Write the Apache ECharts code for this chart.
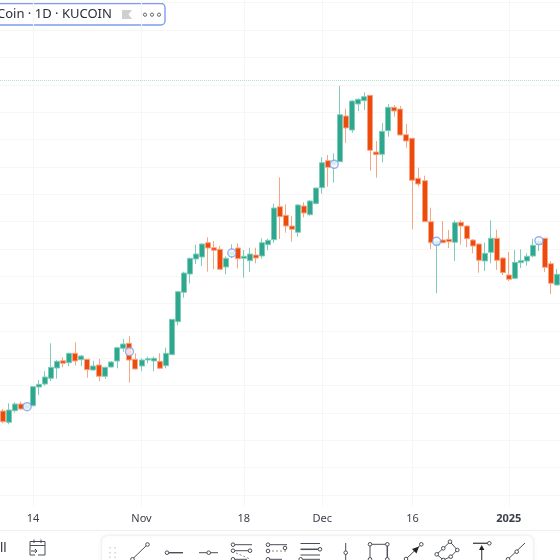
<!DOCTYPE html>
<html><head><meta charset="utf-8">
<style>html,body{margin:0;padding:0;background:#fff}#c{width:560px;height:560px}</style>
<script src="https://cdn.jsdelivr.net/npm/echarts@6/dist/echarts.min.js"></script>
</head><body><div id="c"></div>
<script>
const categories = ["10-09","10-10","10-11","10-12","10-13","10-14","10-15","10-16","10-17","10-18","10-19","10-20","10-21","10-22","10-23","10-24","10-25","10-26","10-27","10-28","10-29","10-30","10-31","11-01","11-02","11-03","11-04","11-05","11-06","11-07","11-08","11-09","11-10","11-11","11-12","11-13","11-14","11-15","11-16","11-17","11-18","11-19","11-20","11-21","11-22","11-23","11-24","11-25","11-26","11-27","11-28","11-29","11-30","12-01","12-02","12-03","12-04","12-05","12-06","12-07","12-08","12-09","12-10","12-11","12-12","12-13","12-14","12-15","12-16","12-17","12-18","12-19","12-20","12-21","12-22","12-23","12-24","12-25","12-26","12-27","12-28","12-29","12-30","12-31","01-01","01-02","01-03","01-04","01-05","01-06","01-07","01-08","01-09"];
const tickCategories = ["10-14","11-01","11-18","12-01","12-16","01-01"];
const tickLabels = ["14","Nov","18","Dec","16","2025"];
const opens  = [95,83.7,95.3,102,97.3,100.3,119,122,127.7,138,145.3,143.3,152.7,146.3,146.7,136,141,129.7,139,145,157.7,162.7,146.7,140,146,145,144.7,140.3,151.3,184.3,213.7,232,247,249,263.3,258.3,256.7,239,251,258,247.7,245.3,251,250,261.3,266.3,299.3,290.7,280,273.7,300,291.3,302.3,318.3,345.3,341,344.3,390,376,402,405.3,410.7,354,351.7,375.3,398.7,397,371.3,367.7,327.7,325.3,284.3,261,266,266.7,263.7,283.7,280,266,262,245,253.7,267.7,248,231,227.7,243.3,245,250,261.5,267.7,242.3,221];
const closes = [84.3,96,102,97,101.3,119.3,121.7,129,138.7,144.7,142.7,152.7,145,150,136.3,140,129.7,138.7,144,158.3,162,146,137,146,147.3,147.7,137.7,152.7,186.7,214.3,233,247.7,252,262,258,255.7,236.7,247.7,254.3,247.3,249.7,252,248,263.3,265.7,298,289.3,280,276.7,301,293,305,318,343.3,338.7,345,391.3,378,405,406.7,409.3,355.7,351.3,374.7,398.7,395,371,365,325.7,322,284.3,263.3,265,263.3,264.3,283.3,280,267.3,260,245.7,252.7,267.7,245.7,233.3,226.7,243.7,245.3,249.7,260.7,265,238.7,222.7,231.7];
const lows   = [82.7,81.7,93.3,96,96.5,99.7,111,120.3,125,127.3,138.7,140,140.3,140,128.3,135.3,124.7,127.3,138.7,137.7,154.3,123.3,136.3,134.7,142.7,134.7,136.7,137.7,151,180.7,208.3,222.7,242,240,234.3,236.7,236,231.7,248,237.7,228.3,234,242.7,247.3,255.7,263,267,273.3,264.3,269.3,288.7,290.3,302.3,312.3,319.3,323.3,344,363,373.3,395,396,335.3,328.3,343.7,369.3,389.3,370.7,358.3,276.7,319.3,284,257,212.7,262.7,258,245,261.3,258.7,252.7,233.3,235,242.7,236,231,225,227.3,238,240.3,248.7,255,234,212,220.7];
const highs  = [97,102.7,103.7,104.3,102,120,126,134.7,162.7,146,148.7,153.3,163.7,151,147,145,147,139.3,145,159,167,170,152.7,147.7,149.3,149.3,152.7,158.3,186.7,214.7,234.3,248.3,261.3,262.7,268.7,265,260,249.7,261.7,262.7,256,258.3,258.3,267.7,267.3,302.3,328.7,301.7,290,302,303.7,306,318,348.7,351,352.7,420,397.3,405.7,407.7,413.7,411,365,383,402,401,400,382,368,338.3,330.3,298.3,266.5,285,276,285.7,285.7,280.7,267,262.3,263.3,285.7,276.3,248.7,254,256,256.7,252.7,267.3,268,268,244.7,237];
const gridValues = [11,38.35,65.7,93.05,120.4,147.75,175.1,202.45,229.8,257.15,284.5,311.85,339.2,366.55,393.9,421.25,448.6,475.95,503.3];
const markerCategories = ["10-13","10-30","11-16","12-03","12-20","01-06"];
const markerValues = [99.3,154.3,253,341.7,264.7,265.3];
const lastPriceLine = 425.7;
const titleText = "Coin · 1D · KUCOIN";
const tabFragment = "ll";

const candleData = categories.map((c,i)=>[opens[i],closes[i],lows[i],highs[i]]);
const scatterData = markerCategories.map((c,i)=>[c,markerValues[i]]);
const tickSet = new Set(tickCategories);
const FONT = '"Noto Sans", sans-serif';
const ink = '#4a4e57';

function line(pts,w,col,extra){return Object.assign({type:'polyline',shape:{points:pts},style:{stroke:col||ink,lineWidth:w||1,fill:null},silent:true},extra||{});}
function dot(x,y,r){return {type:'circle',shape:{cx:x,cy:y,r:r||1.8},style:{fill:'#fff',stroke:ink,lineWidth:1},silent:true};}

const g = [];
g.push(line([[0,530.5],[560,530.5]],1,'#efefef'));
g.push({type:'rect',shape:{x:101.5,y:535.5,width:432,height:40,r:6},style:{fill:'#fff',stroke:'#f2f2f2',lineWidth:1,shadowBlur:4,shadowColor:'rgba(0,0,0,0.06)'},silent:true});
// header box
g.push({type:'rect',shape:{x:-10,y:3.5,width:175,height:21.5,r:4},style:{fill:'#fff',stroke:'#7f9df0',lineWidth:1.4},silent:true});
g.push({type:'text',style:{x:-3,y:14.5,text:titleText,font:'13px '+FONT,fill:'#2a2e39',textVerticalAlign:'middle'},silent:true});
g.push({type:'polygon',shape:{points:[[122,10],[132,10],[128.5,14.5],[132,19],[122,19]]},style:{fill:'#cfcfcf'},silent:true});
[145,152,159].forEach(x=>g.push({type:'circle',shape:{cx:x,cy:14.7,r:1.6},style:{fill:'#fff',stroke:'#666',lineWidth:1},silent:true}));
// bottom-left fragments
g.push({type:'text',style:{x:0,y:548.5,text:tabFragment,font:'13px '+FONT,fill:'#2a2e39',textVerticalAlign:'middle'},silent:true});
g.push({type:'polyline',shape:{points:[[35,555],[30,555],[30,541.5],[45,541.5],[45,555],[38,555]]},style:{stroke:ink,lineWidth:1,fill:null},silent:true});
g.push(line([[30,545.5],[45,545.5]],1),line([[34,539.5],[34,543]],1),line([[41,539.5],[41,543]],1));
g.push(line([[31,551],[37,551]],1),line([[35,549],[37,551],[35,553]],1));
// grip dots
[110,115].forEach(x=>[547.7,552.7,557.3].forEach(y=>g.push({type:'rect',shape:{x:x-0.8,y:y-0.8,width:1.6,height:1.6},style:{fill:'#d6d6d6'},silent:true})));
// icons
g.push(line([[132,559.5],[147.5,544.5]]),dot(147.5,544.5),dot(132.5,559.3));
g.push(line([[168,552.7],[183,552.7]],1.4),dot(167,552.7));
g.push(line([[199,552.7],[218,552.7]]),dot(208.7,552.7));
g.push(line([[233,544.7],[252,544.7]]),dot(233,544.7),line([[233,550.7],[250,550.7]]),dot(233,550.7),dot(250,550.7),line([[236,553],[250,559]],1,'#888',{style:{stroke:'#888',lineWidth:1,fill:null,lineDash:[2,2]}}),line([[233,559.3],[247,559.3]]),dot(233,559.3));
g.push(line([[268,544.7],[287,544.7]]),dot(268,544.7),line([[268,551],[286,551]],1,'#888',{style:{stroke:'#888',lineWidth:1,fill:null,lineDash:[2,2]}}),dot(268,551),dot(285,548),line([[268,559.3],[282,559.3]]),dot(268,559.3));
g.push(line([[300.5,543.5],[320,543.5]]),line([[300.5,549.3],[319,549.3]],1.5),dot(320,549.3),line([[300.5,555],[320,555]]),line([[303,559.3],[320,559.3]]),dot(300.7,559.3));
g.push(line([[345.7,543],[345.7,560]]),dot(345.7,552.7));
g.push(line([[370,544.3],[387.3,544.3]]),line([[370,544.3],[370,560]]),line([[387.3,544.3],[387.3,560]],1.4),dot(370,544.3),dot(387.3,544.3),dot(370,559.3),dot(387.3,559.3));
g.push(line([[406,559],[421.3,544.3]]),dot(421.3,544.3),dot(406,559),{type:'polygon',shape:{points:[[419,546.5],[412,549],[416.5,553.5]]},style:{fill:'#222'},silent:true});
g.push(line([[436.7,554.3],[443.3,548.3],[450,541.7],[457.3,550],[450.7,556.7],[443.3,560],[436.7,554.3]]),dot(436.7,554.3),dot(443.3,548.3),dot(450,541.7),dot(457.3,550),dot(450.7,556.7),dot(443.3,560));
g.push(line([[473,543.3],[488,543.3]],1.4),dot(489.3,543.3),line([[481.7,548],[481.7,562]],1.2),{type:'polygon',shape:{points:[[481.7,545],[479,550],[484.4,550]]},style:{fill:'#222'},silent:true});
g.push(line([[508,559.3],[525,543]]),dot(508,559.3),dot(516.7,551.7));

const chart = echarts.init(document.getElementById('c'),null,{renderer:'canvas'});
chart.setOption({
  animation:false,
  backgroundColor:'#fff',
  grid:{left:-1.3,top:0,width:561.7,height:506,containLabel:false},
  xAxis:{
    type:'category',data:categories,boundaryGap:true,
    axisLine:{show:false},
    axisTick:{show:false,alignWithLabel:true},
    axisLabel:{
      show:true,margin:7,fontFamily:FONT,fontSize:11,color:'#3a3e48',hideOverlap:false,
      interval:(i,v)=>tickSet.has(v),
      formatter:(v)=>{const k=tickCategories.indexOf(v);const t=tickLabels[k]||'';return t==='2025'?'{b|'+t+'}':t;},
      rich:{b:{fontWeight:'bold',fontSize:11,fontFamily:FONT,color:'#3a3e48'}}
    },
    splitLine:{show:true,alignWithLabel:true,interval:(i,v)=>tickSet.has(v),lineStyle:{color:'#f6f6f7',width:1}}
  },
  yAxis:{
    type:'value',min:0,max:506,position:'right',
    axisLine:{show:false},
    axisLabel:{show:false},
    axisTick:{show:false,customValues:gridValues},
    splitLine:{show:true,lineStyle:{color:'#f6f6f7',width:1}}
  },
  series:[
    {type:'candlestick',data:candleData,barWidth:5.5,clip:true,
     itemStyle:{color:'#2fa68e',color0:'#ee4a0c',borderColor:'#7ecdbb',borderColor0:'#f6a685',borderWidth:1},
     markLine:{silent:true,symbol:'none',label:{show:false},
       lineStyle:{color:'#a6e2d4',type:'dotted',width:1},
       data:[{yAxis:lastPriceLine}]}},
    {type:'scatter',data:scatterData,symbol:'circle',symbolSize:8,z:5,
     itemStyle:{color:'#fff',borderColor:'#7f9df0',borderWidth:1.5}}
  ],
  graphic:{elements:g}
});
</script></body></html>
